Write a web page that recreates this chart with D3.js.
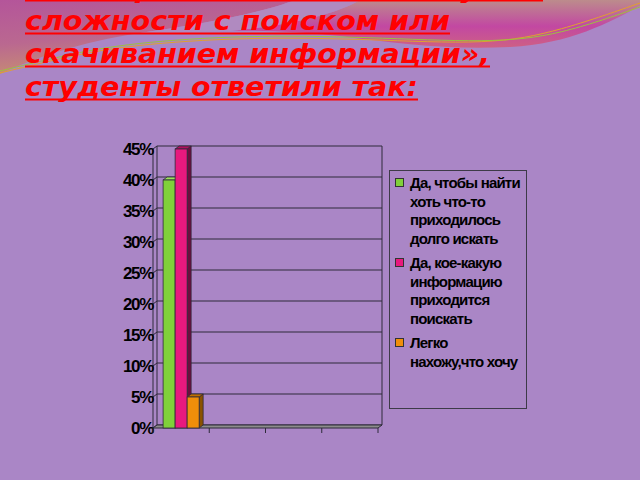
<!DOCTYPE html>
<html><head><meta charset="utf-8">
<script src="https://cdn.jsdelivr.net/npm/d3@7/dist/d3.min.js"></script>
<style>html,body{margin:0;padding:0;background:#AA86C6;}svg{display:block;}</style>
</head><body>
<svg id="c" width="640" height="480"></svg>
<script>
// ---- data ----
const titleLines = ["На вопрос «Возникают ли у вас", "сложности с поиском или", "скачиванием информации»,", "студенты ответили так:"];
const categories = ["1", "2", "3", "4"];
const seriesNames = ["Да, чтобы найти хоть что-то приходилось долго искать", "Да, кое-какую информацию приходится поискать", "Легко нахожу,что хочу"];
const legendLines = [["Да, чтобы найти", "хоть что-то", "приходилось", "долго искать"], ["Да, кое-какую", "информацию", "приходится", "поискать"], ["Легко", "нахожу,что хочу"]];
const seriesValues = [[0.40, null, null, null], [0.45, null, null, null], [0.05, null, null, null]];
const yTicks = [0, 0.05, 0.10, 0.15, 0.20, 0.25, 0.30, 0.35, 0.40, 0.45];
const yTickLabels = ["0%", "5%", "10%", "15%", "20%", "25%", "30%", "35%", "40%", "45%"];
const colors = ["#80D03A", "#E8197E", "#F08E0A"];
const topColors = ["#9BE05A", "#B0105E", "#C07000"];
const sideColors = ["#4E8A20", "#6E0C3E", "#8A5200"];

const svg = d3.select("#c");
const defs = svg.append("defs");

// ---- background decoration ----
const g1 = defs.append("linearGradient").attr("id", "gl").attr("x1", "0").attr("y1", "0").attr("x2", "0.3").attr("y2", "1");
g1.append("stop").attr("offset", "0").attr("stop-color", "#B4559A");
g1.append("stop").attr("offset", "0.55").attr("stop-color", "#BA6890");
g1.append("stop").attr("offset", "1").attr("stop-color", "#C89070");
const g2 = defs.append("linearGradient").attr("id", "gr").attr("x1", "0").attr("y1", "0").attr("x2", "0").attr("y2", "1");
g2.append("stop").attr("offset", "0").attr("stop-color", "#BC8C8C");
g2.append("stop").attr("offset", "0.55").attr("stop-color", "#C248A2");
g2.append("stop").attr("offset", "1").attr("stop-color", "#CE6084");

svg.append("rect").attr("width", 640).attr("height", 480).attr("fill", "#AA86C6");
svg.append("path").attr("d", "M0,0 H295 C265,12 205,24 140,33 C80,42 35,58 0,74 Z").attr("fill", "url(#gl)");
svg.append("path").attr("d", "M360,0 H640 V6 C610,22 570,44 510,47 C450,50 400,44 340,36 C300,32 260,30 230,31 C300,24 340,12 360,0 Z").attr("fill", "url(#gr)");
svg.append("path").attr("d", "M295,0 H360 C340,12 300,24 230,31 C200,32 170,33 140,33 C205,24 265,12 295,0 Z").attr("fill", "#B08AC0");

const wave = d3.line().curve(d3.curveBasis);
const wpts = [[0, 72], [70, 55], [130, 44], [245, 36], [367, 38], [490, 44], [560, 30], [640, 2]];
svg.append("path").attr("d", wave(wpts.map(p => [p[0], p[1] + 1]))).attr("fill", "none").attr("stroke", "#E0A030").attr("stroke-width", 1);
svg.append("path").attr("d", wave(wpts.map(p => [p[0], p[1] + (p[0] > 520 ? 5 : -1)]))).attr("fill", "none").attr("stroke", "#9CC040").attr("stroke-width", 1);

// ---- title ----
const titleBase = [-3, 30, 63, 96];
const titleWidths = [518, 425, 465, 393];
titleLines.forEach((t, i) => {
  svg.append("text").attr("x", 25).attr("y", titleBase[i])
    .attr("font-family", "DejaVu Sans").attr("font-weight", "bold").attr("font-style", "italic")
    .attr("font-size", 27).attr("fill", "#FF0000")
    .attr("textLength", titleWidths[i]).attr("lengthAdjust", "spacingAndGlyphs")
    .text(t);
  svg.append("rect").attr("x", 25).attr("y", titleBase[i] + 2.5).attr("width", titleWidths[i]).attr("height", 2).attr("fill", "#FF0000");
});

// ---- chart ----
const DX = 4, DY = 3;                  // 3D depth offset
const backL = 157, backR = 382;
const y = d3.scaleLinear().domain([0, 0.45]).range([425, 146]);   // back wall
const x = d3.scaleBand().domain(categories).range([backL - DX, backR - DX]).padding(0); // front
const x1 = d3.scaleBand().domain(d3.range(seriesNames.length)).range([0, x.bandwidth()]).paddingInner(0).paddingOuter(0.84);
const stroke = "#2E2A3A";

const chart = svg.append("g");
chart.selectAll("line.grid").data(yTicks).join("line")
  .attr("x1", backL).attr("x2", backR).attr("y1", d => y(d)).attr("y2", d => y(d))
  .attr("stroke", stroke).attr("stroke-width", 1);
chart.selectAll("line.side").data(yTicks).join("line")
  .attr("x1", backL - DX).attr("x2", backL).attr("y1", d => y(d) + DY).attr("y2", d => y(d))
  .attr("stroke", stroke).attr("stroke-width", 1);
chart.append("line").attr("x1", backL).attr("x2", backL).attr("y1", y(0.45)).attr("y2", y(0)).attr("stroke", stroke);
chart.append("line").attr("x1", backR).attr("x2", backR).attr("y1", y(0.45)).attr("y2", y(0)).attr("stroke", stroke);
chart.append("path").attr("d", `M${backL - DX},${y(0) + DY} L${backR - DX},${y(0) + DY} L${backR},${y(0)} L${backL},${y(0)} Z`)
  .attr("fill", "#8C8C8C").attr("stroke", stroke).attr("stroke-width", 1);
chart.append("line").attr("x1", backL - DX).attr("x2", backL - DX).attr("y1", y(0.45) + DY).attr("y2", y(0) + DY).attr("stroke", stroke);
chart.selectAll("line.yt").data(yTicks).join("line")
  .attr("x1", backL - DX - 4).attr("x2", backL - DX).attr("y1", d => y(d) + DY).attr("y2", d => y(d) + DY)
  .attr("stroke", stroke);
chart.selectAll("text.yl").data(yTicks).join("text")
  .attr("x", backL - DX).attr("y", d => y(d) + DY + 6)
  .attr("text-anchor", "end").attr("font-family", "Liberation Sans").attr("font-weight", "bold")
  .attr("font-size", 17).attr("letter-spacing", -1.3).attr("fill", "#000")
  .text((d, i) => yTickLabels[i]);
const catTicks = categories.map(c => x(c)).concat([x(categories[categories.length - 1]) + x.bandwidth()]);
chart.selectAll("line.xt").data(catTicks).join("line")
  .attr("x1", d => d).attr("x2", d => d).attr("y1", y(0) + DY).attr("y2", y(0) + DY + 5)
  .attr("stroke", stroke);

// bars
seriesValues.forEach((vals, si) => {
  vals.forEach((v, ci) => {
    if (v == null) return;
    const bx = x(categories[ci]) + x1(si);
    const bw = x1.bandwidth();
    const yt = y(v) + DY, yb = y(0) + DY;
    const g = chart.append("g");
    g.append("path").attr("d", `M${bx + bw},${yt} L${bx + bw + DX},${yt - DY} L${bx + bw + DX},${yb - DY} L${bx + bw},${yb} Z`)
      .attr("fill", sideColors[si]).attr("stroke", stroke).attr("stroke-width", 0.8);
    g.append("path").attr("d", `M${bx},${yt} L${bx + DX},${yt - DY} L${bx + bw + DX},${yt - DY} L${bx + bw},${yt} Z`)
      .attr("fill", topColors[si]).attr("stroke", stroke).attr("stroke-width", 0.8);
    g.append("rect").attr("x", bx).attr("y", yt).attr("width", bw).attr("height", yb - yt)
      .attr("fill", colors[si]).attr("stroke", stroke).attr("stroke-width", 0.8);
  });
});

// legend
const lg = svg.append("g");
lg.append("rect").attr("x", 389.5).attr("y", 170.5).attr("width", 137).attr("height", 238)
  .attr("fill", "none").attr("stroke", "#3E3A48").attr("stroke-width", 1);
const entryTop = [183, 263, 343];
legendLines.forEach((lines, si) => {
  lg.append("rect").attr("x", 395.5).attr("y", entryTop[si] - 4.5).attr("width", 8).attr("height", 8)
    .attr("fill", colors[si]).attr("stroke", "#333").attr("stroke-width", 1);
  lines.forEach((t, li) => {
    lg.append("text").attr("x", 410).attr("y", entryTop[si] + 5 + li * 18.7)
      .attr("font-family", "Liberation Sans").attr("font-weight", "bold").attr("font-size", 15)
      .attr("letter-spacing", -0.8).attr("fill", "#000").text(t);
  });
});
</script>
</body></html>
